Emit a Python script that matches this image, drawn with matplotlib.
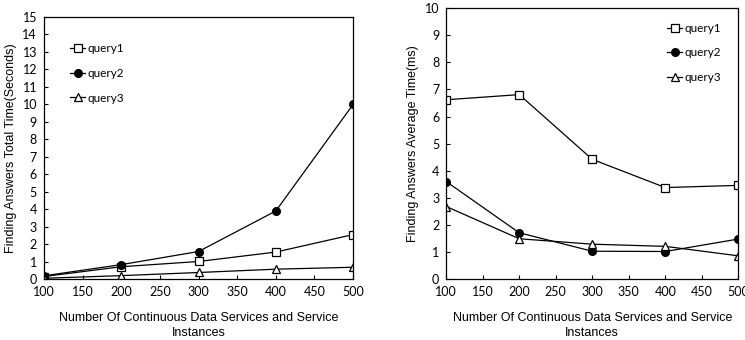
import matplotlib
matplotlib.use('Agg')
import matplotlib.pyplot as plt

plt.rcParams.update({'font.family': ['Liberation Sans', 'DejaVu Sans']})

x = [100, 200, 300, 400, 500]

# left panel: total time (seconds)
total_q1 = [0.15, 0.71, 1.01, 1.55, 2.55]
total_q2 = [0.19, 0.83, 1.58, 3.90, 10.0]
total_q3 = [0.05, 0.20, 0.38, 0.57, 0.68]

# right panel: average time (ms)
avg_q1 = [6.62, 6.81, 4.42, 3.38, 3.46]
avg_q2 = [3.60, 1.71, 1.03, 1.02, 1.48]
avg_q3 = [2.68, 1.49, 1.29, 1.21, 0.86]

labels = ['query1', 'query2', 'query3']
xlabel = 'Number Of Continuous Data Services and Service\nInstances'
TICKFONT = 'Lato'


def style(ax, ymax):
    ax.set_xlim(100, 500)
    ax.set_ylim(0, ymax)
    ax.set_xticks(range(100, 501, 50))
    ax.set_yticks(range(0, ymax + 1))
    ax.tick_params(direction='in', length=3, width=0.8, labelsize=9, pad=5)
    for t in ax.get_xticklabels() + ax.get_yticklabels():
        t.set_fontfamily(TICKFONT)
    for s in ax.spines.values():
        s.set_linewidth(0.9)
    ax.set_xlabel(xlabel, fontsize=9, labelpad=10, linespacing=1.3)


def draw(ax, q1, q2, q3):
    kw = dict(color='black', lw=0.9)
    ax.plot(x, q1, marker='s', ms=5.5, mfc='white', mec='black', mew=0.9, label=labels[0], **kw)
    ax.plot(x, q2, marker='o', ms=5.5, mfc='black', mec='black', label=labels[1], **kw)
    ax.plot(x, q3, marker='^', ms=5.5, mfc='white', mec='black', mew=0.9, label=labels[2], **kw)


fig = plt.figure(figsize=(7.45, 3.40), dpi=100)

ax1 = fig.add_axes([0.059, 0.179, 0.415, 0.771])
draw(ax1, total_q1, total_q2, total_q3)
style(ax1, 15)
ax1.set_ylabel('Finding Answers Total Time(Seconds)', fontsize=9, labelpad=4)
ax1.legend(loc='upper left', bbox_to_anchor=(0.05, 0.94), frameon=False,
           handlelength=1.3, handletextpad=0.2, labelspacing=1.15,
           prop={'family': TICKFONT, 'size': 8.5})

ax2 = fig.add_axes([0.599, 0.179, 0.392, 0.797])
draw(ax2, avg_q1, avg_q2, avg_q3)
style(ax2, 10)
ax2.set_ylabel('Finding Answers Average Time(ms)', fontsize=9, labelpad=4)
ax2.legend(loc='upper left', bbox_to_anchor=(0.72, 0.985), frameon=False,
           handlelength=1.3, handletextpad=0.2, labelspacing=1.15,
           prop={'family': TICKFONT, 'size': 8.5})

fig.savefig('out.png', dpi=100, facecolor='white')
